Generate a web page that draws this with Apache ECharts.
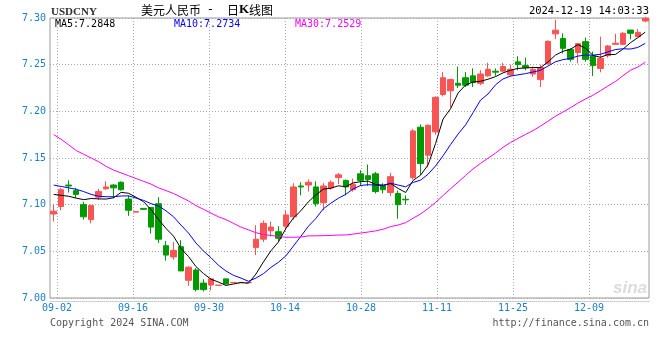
<!DOCTYPE html>
<html>
<head>
<meta charset="utf-8">
<script src="https://cdn.jsdelivr.net/npm/echarts@6/dist/echarts.min.js"></script>
<style>
html,body{margin:0;padding:0;background:#fff;}
#chart{width:660px;height:360px;}
</style>
</head>
<body>
<div id="chart"></div>
<script>
// ---- data ----
const dates = ['08-30',
 '09-02','09-03','09-04','09-05','09-06','09-09','09-10','09-11','09-12','09-13','09-16','09-17','09-18','09-19','09-20','09-23','09-24','09-25','09-26','09-27','09-30',
 '10-01','10-02','10-03','10-04','10-07','10-08','10-09','10-10','10-11','10-14','10-15','10-16','10-17','10-18','10-21','10-22','10-23','10-24','10-25','10-28','10-29','10-30','10-31',
 '11-01','11-04','11-05','11-06','11-07','11-08','11-11','11-12','11-13','11-14','11-15','11-18','11-19','11-20','11-21','11-22','11-25','11-26','11-27','11-28','11-29',
 '12-02','12-03','12-04','12-05','12-06','12-09','12-10','12-11','12-12','12-13','12-16','12-17','12-18','12-19'];

const opens = [7.090,7.098,7.121,7.115,7.100,7.084,7.108,7.117,7.121,7.124,
 7.106,7.092,7.096,7.097,7.101,7.056,7.044,7.055,7.019,7.030,
 7.016,7.014,7.0135,7.0205,7.0164,7.0164,7.0164,7.054,7.063,7.072,
 7.071,7.077,7.087,7.120,7.121,7.119,7.102,7.118,7.129,7.126,
 7.116,7.133,7.131,7.133,7.120,7.113,7.112,7.1058,7.129,7.183,
 7.153,7.178,7.218,7.222,7.230,7.236,7.238,7.230,7.238,7.243,
 7.243,7.239,7.253,7.249,7.240,7.234,7.251,7.283,7.278,7.2664,
 7.263,7.2746,7.2593,7.246,7.2596,7.2718,7.2718,7.2871,7.280,7.2968];

const closes = [7.093,7.116,7.120,7.111,7.087,7.099,7.114,7.119,7.118,7.116,
 7.094,7.0925,7.095,7.076,7.063,7.046,7.051,7.029,7.033,7.009,
 7.009,7.0205,7.0138,7.015,7.0167,7.0167,7.0167,7.063,7.080,7.076,
 7.064,7.089,7.119,7.119,7.124,7.101,7.120,7.124,7.132,7.119,
 7.122,7.126,7.127,7.114,7.116,7.130,7.100,7.1052,7.179,7.144,
 7.185,7.215,7.236,7.234,7.228,7.228,7.231,7.240,7.245,7.242,
 7.248,7.245,7.250,7.247,7.245,7.247,7.275,7.287,7.2675,7.2557,
 7.2725,7.2557,7.249,7.2568,7.270,7.2729,7.2836,7.2836,7.2846,7.2996];

const lows = [7.082,7.094,7.113,7.107,7.084,7.080,7.105,7.116,7.107,7.115,
 7.088,7.092,7.095,7.069,7.059,7.040,7.041,7.029,7.013,7.007,
 7.007,7.008,7.0135,7.015,7.0164,7.0164,7.0164,7.046,7.060,7.066,
 7.061,7.073,7.084,7.110,7.114,7.098,7.094,7.116,7.122,7.110,
 7.114,7.120,7.120,7.112,7.112,7.109,7.085,7.100,7.127,7.132,
 7.140,7.175,7.216,7.204,7.225,7.226,7.226,7.228,7.237,7.238,
 7.242,7.238,7.244,7.244,7.237,7.226,7.250,7.2775,7.262,7.2532,
 7.2514,7.2532,7.238,7.2418,7.2575,7.2718,7.271,7.2771,7.280,7.2954];

const highs = [7.100,7.118,7.126,7.118,7.103,7.100,7.117,7.125,7.122,7.125,
 7.110,7.0925,7.096,7.097,7.108,7.061,7.060,7.062,7.034,7.032,
 7.020,7.021,7.0138,7.0205,7.0167,7.0167,7.0167,7.078,7.083,7.082,
 7.077,7.094,7.123,7.124,7.127,7.125,7.123,7.126,7.134,7.127,
 7.128,7.137,7.143,7.135,7.123,7.134,7.115,7.110,7.181,7.186,
 7.186,7.216,7.242,7.235,7.248,7.242,7.246,7.244,7.252,7.246,
 7.252,7.250,7.259,7.2575,7.248,7.250,7.276,7.298,7.2836,7.2675,
 7.2725,7.279,7.264,7.280,7.271,7.283,7.285,7.2871,7.288,7.3014];

// moving-average values before enough closes are on the chart
const ma5Head = [7.111,7.110,7.109,7.107];
const ma10Head = [7.121,7.1195,7.118,7.1165,7.114,7.111,7.109,7.1085,7.1085];
const ma30Head = [7.175,7.170,7.164,7.158,7.154,7.150,7.146,7.141,7.137,7.134,
 7.131,7.128,7.125,7.122,7.118,7.115,7.112,7.108,7.104,7.099,
 7.095,7.091,7.087,7.084,7.080,7.076,7.073,7.070,7.068];

const legendValues = ['7.2848','7.2734','7.2529'];
const tickLabels = ['09-02','09-16','09-30','10-14','10-28','11-11','11-25','12-09'];
const yTicks = {min:7.00, max:7.30, step:0.05};

// ---- build ----
function movingAvg(n, head){
  const out = [];
  for (let i = 0; i < closes.length; i++){
    if (i < head.length){ out.push(head[i]); continue; }
    let s = 0;
    for (let j = i - n + 1; j <= i; j++) s += closes[j];
    out.push(+(s / n).toFixed(5));
  }
  return out;
}
const ma5 = movingAvg(5, ma5Head);
const ma10 = movingAvg(10, ma10Head);
const ma30 = movingAvg(30, ma30Head);
const candles = opens.map((o,i)=>[o, closes[i], lows[i], highs[i]]);

const RED = '#f85454', GREEN = '#009a00', BLUE_TXT = '#1b7fcc';
const MONO = '"DejaVu Sans Mono", "Liberation Mono", monospace';

const chart = echarts.init(document.getElementById('chart'), null, {renderer:'canvas'});
chart.setOption({
  animation:false,
  backgroundColor:'#fff',
  grid:[
    {left:50, top:18, width:599, height:280, show:true, borderColor:'#9a9a9a', borderWidth:1, backgroundColor:'transparent'},
    {left:57, top:18, width:532, height:280, show:false}
  ],
  xAxis:[
    {type:'category', gridIndex:0, data:dates, boundaryGap:true,
     axisLine:{show:true, onZero:false, lineStyle:{color:'#c4c4c4', type:'dotted', width:1}},
     offset:3,
     axisTick:{show:false}, axisLabel:{show:false}, splitLine:{show:false}},
    {type:'value', gridIndex:1, min:0, max:tickLabels.length-1, interval:1,
     axisLine:{show:false}, axisTick:{show:false},
     splitLine:{show:true, lineStyle:{color:'#a8a8a8', type:[1,2], width:1}},
     axisLabel:{show:true, margin:5, color:BLUE_TXT, fontFamily:MONO, fontSize:10,
       formatter:(v)=>tickLabels[Math.round(v)] || ''}}
  ],
  yAxis:[
    {type:'value', gridIndex:0, min:yTicks.min, max:yTicks.max, interval:yTicks.step,
     axisLine:{show:false}, axisTick:{show:false},
     splitLine:{show:true, lineStyle:{color:'#a8a8a8', type:[1,2], width:1}},
     axisLabel:{show:true, margin:4, color:BLUE_TXT, fontFamily:MONO, fontSize:10,
       formatter:(v)=>v.toFixed(2)}},
    {type:'value', gridIndex:1, min:0, max:1, show:false}
  ],
  series:[
    {type:'candlestick', xAxisIndex:0, yAxisIndex:0, data:candles, barWidth:6,
     itemStyle:{color:RED, color0:GREEN, borderColor:RED, borderColor0:GREEN, borderWidth:1},
     z:2},
    {type:'line', name:'MA5', xAxisIndex:0, yAxisIndex:0, data:ma5, showSymbol:false, symbol:'none',
     lineStyle:{color:'#000000', width:1}, z:3},
    {type:'line', name:'MA10', xAxisIndex:0, yAxisIndex:0, data:ma10, showSymbol:false, symbol:'none',
     lineStyle:{color:'#0000ff', width:1}, z:3},
    {type:'line', name:'MA30', xAxisIndex:0, yAxisIndex:0, data:ma30, showSymbol:false, symbol:'none',
     lineStyle:{color:'#ff00ff', width:1}, z:3}
  ],
  graphic:[
    {type:'text', x:51, y:12.5, style:{text:'USDCNY', font:'bold 11px "Liberation Serif", serif', fill:'#333', textVerticalAlign:'middle', verticalAlign:'middle'}},
    {type:'text', x:141, y:10, style:{text:'美元人民币', font:'12px "Noto Sans CJK SC"', fill:'#000', textVerticalAlign:'middle', verticalAlign:'middle'}},
    {type:'text', x:210.5, y:10, style:{text:'-', font:'12px "DejaVu Sans"', fill:'#000', textAlign:'center', align:'center', textVerticalAlign:'middle', verticalAlign:'middle'}},
    {type:'text', x:227, y:10, style:{text:'日{k|K}线图', font:'12px "Noto Sans CJK SC"', fill:'#000', textVerticalAlign:'middle', verticalAlign:'middle',
       rich:{k:{fontFamily:'"Liberation Serif", serif', fontWeight:'bold', fontSize:13, fill:'#000', color:'#000'}}}},
    {type:'text', x:649, y:11.5, style:{text:'2024-12-19 14:03:33', font:'10.5px ' + MONO, fill:'#000', textAlign:'right', align:'right', textVerticalAlign:'middle', verticalAlign:'middle'}},
    {type:'text', x:55, y:24, z:10, style:{text:'MA5:' + legendValues[0], font:'10px ' + MONO, fill:'#000', textVerticalAlign:'middle', verticalAlign:'middle'}},
    {type:'text', x:174, y:24, z:10, style:{text:'MA10:' + legendValues[1], font:'10px ' + MONO, fill:'#0000ff', textVerticalAlign:'middle', verticalAlign:'middle'}},
    {type:'text', x:295, y:24, z:10, style:{text:'MA30:' + legendValues[2], font:'10px ' + MONO, fill:'#ff00ff', textVerticalAlign:'middle', verticalAlign:'middle'}},
    {type:'text', x:647, y:288, z:0, style:{text:'sina', font:'italic bold 17px "Liberation Sans", sans-serif', fill:'#dcdcdc', textAlign:'right', align:'right', textVerticalAlign:'middle', verticalAlign:'middle'}},
    {type:'text', x:50, y:323, style:{text:'Copyright 2024 SINA.COM', font:'10px ' + MONO, fill:'#555', textVerticalAlign:'middle', verticalAlign:'middle'}},
    {type:'text', x:649, y:323, style:{text:'http://finance.sina.com.cn', font:'10px ' + MONO, fill:'#555', textAlign:'right', align:'right', textVerticalAlign:'middle', verticalAlign:'middle'}}
  ]
});
</script>
</body>
</html>
